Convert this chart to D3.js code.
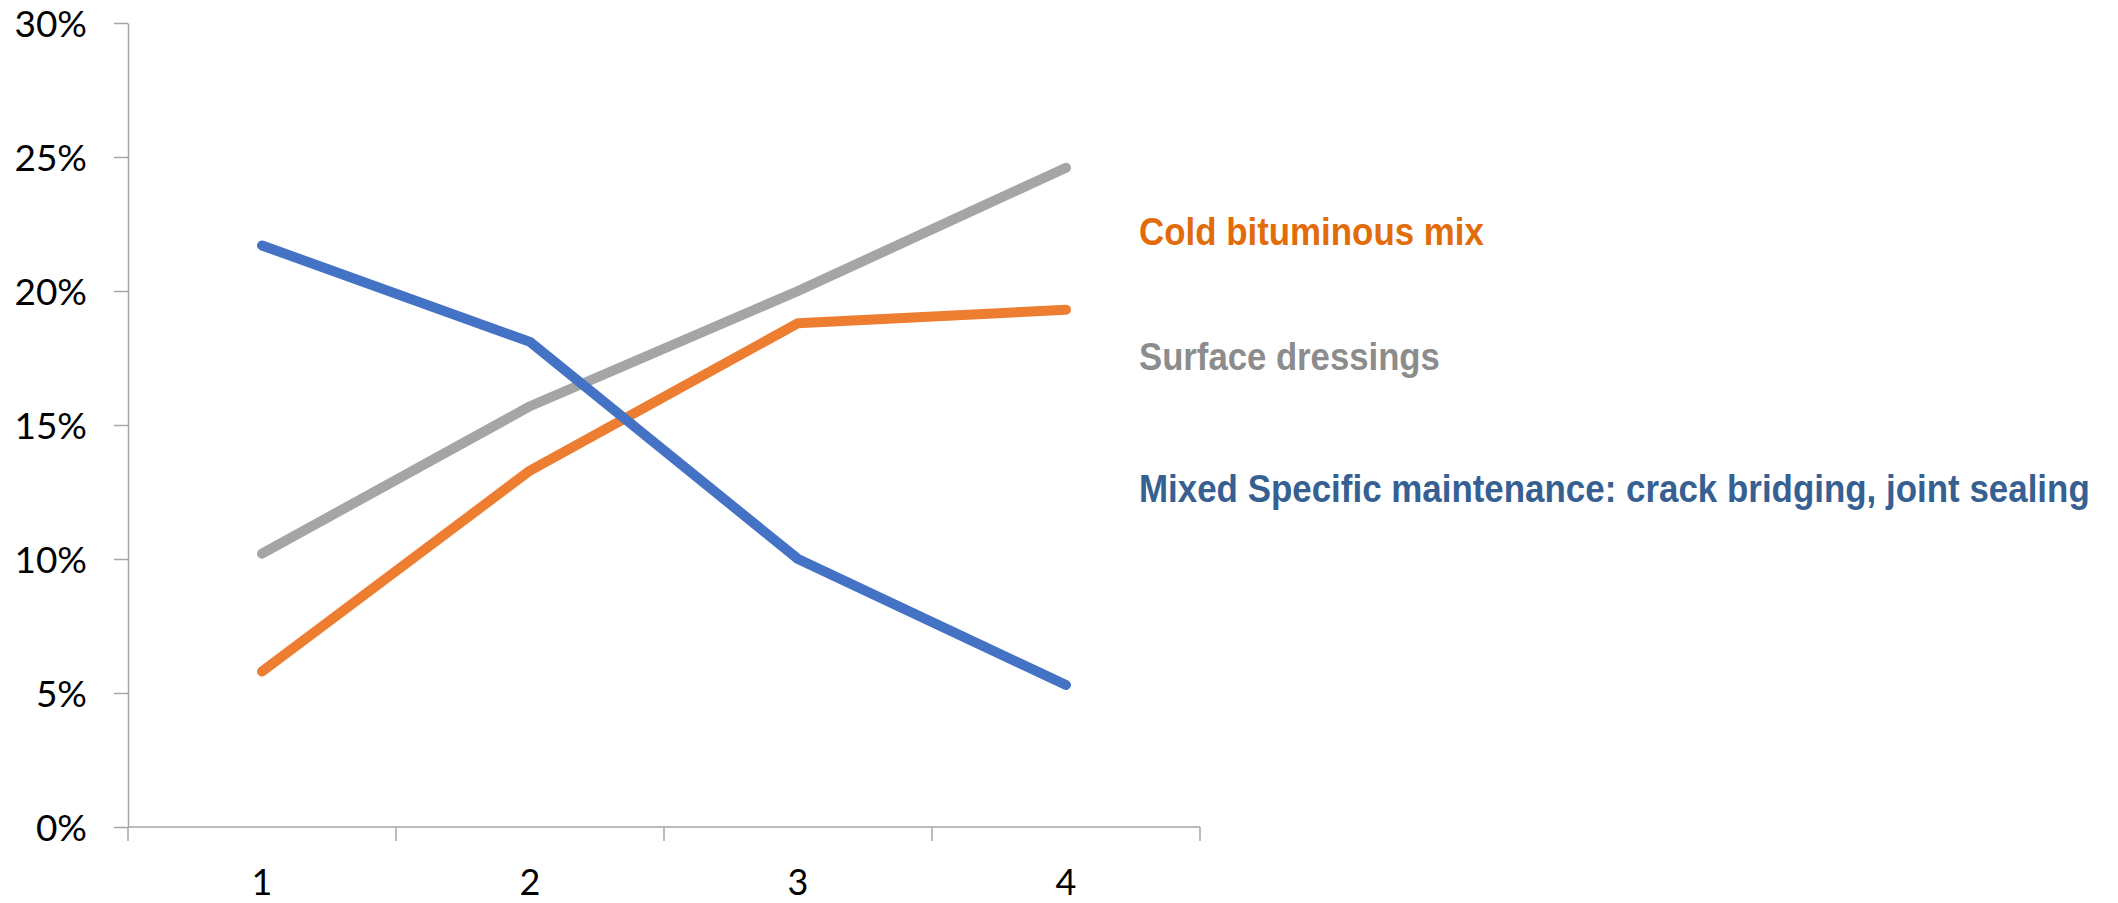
<!DOCTYPE html>
<html>
<head>
<meta charset="utf-8">
<script src="https://cdn.jsdelivr.net/npm/d3@7"></script>
<style>
  html, body { margin: 0; padding: 0; background: #fff; }
  #viz { width: 2118px; height: 903px; }
</style>
</head>
<body>
<div id="viz"></div>
<script>
// chart values
const categories = ["1", "2", "3", "4"];
const seriesNames = [
    "Cold bituminous mix",
    "Surface dressings",
    "Mixed Specific maintenance: crack bridging, joint sealing"
];
const coldMix = [0.058, 0.133, 0.188, 0.193];
const surfaceDressings = [0.102, 0.157, 0.200, 0.246];
const mixedMaintenance = [0.217, 0.181, 0.100, 0.053];
const yTicks = [0, 0.05, 0.10, 0.15, 0.20, 0.25, 0.30];

// colours
const LINE_COLORS = ["#ed7d31", "#a5a5a5", "#4472c4"];
const LABEL_COLORS = ["#e36c0a", "#8c8c8c", "#376092"];
const AXIS = "#a6a6a6";

function renderChart() {
    const width = 2118, height = 903;
    const margin = { top: 23, right: 918, bottom: 76, left: 128 };

    const svg = d3.select("#viz").append("svg")
        .attr("width", width)
        .attr("height", height);

    const x = d3.scaleBand()
        .domain(categories)
        .range([margin.left, width - margin.right]);

    const y = d3.scaleLinear()
        .domain([0, 0.30])
        .range([height - margin.bottom, margin.top]);

    // y axis
    const yAxis = svg.append("g")
        .attr("transform", `translate(${margin.left},0)`)
        .call(d3.axisLeft(y).tickValues(yTicks).tickFormat(d3.format(".0%")).tickSize(14).tickSizeOuter(0).tickPadding(27));
    yAxis.select(".domain").attr("stroke", AXIS).attr("stroke-width", 1.5);
    yAxis.selectAll(".tick line").attr("stroke", AXIS).attr("stroke-width", 1.5);
    yAxis.selectAll(".tick text")
        .attr("fill", "#000")
        .style("font-family", "Lato, 'Noto Sans', sans-serif")
        .style("font-size", "37px")
        .attr("dy", "0.36em");

    // x axis, with ticks between categories like the original
    const xAxis = svg.append("g")
        .attr("transform", `translate(0,${height - margin.bottom})`);
    xAxis.append("line")
        .attr("x1", margin.left).attr("x2", width - margin.right)
        .attr("stroke", AXIS).attr("stroke-width", 1.5);
    const edges = categories.map(c => x(c)).concat([x(categories[categories.length - 1]) + x.bandwidth()]);
    xAxis.selectAll("line.tick")
        .data(edges)
        .join("line")
        .attr("class", "tick")
        .attr("x1", d => d).attr("x2", d => d)
        .attr("y1", 0).attr("y2", 14)
        .attr("stroke", AXIS).attr("stroke-width", 1.5);
    xAxis.selectAll("text")
        .data(categories)
        .join("text")
        .attr("x", d => x(d) + x.bandwidth() / 2)
        .attr("y", 68)
        .attr("text-anchor", "middle")
        .style("font-family", "Lato, 'Noto Sans', sans-serif")
        .style("font-size", "36px")
        .attr("fill", "#000")
        .text(d => d);

    // lines
    const series = [coldMix, surfaceDressings, mixedMaintenance];
    const line = d3.line()
        .x((d, i) => x(categories[i]) + x.bandwidth() / 2)
        .y(d => y(d));

    // draw order: grey under, orange, blue on top
    [1, 0, 2].forEach(k => {
        svg.append("path")
            .datum(series[k])
            .attr("d", line)
            .attr("fill", "none")
            .attr("stroke", LINE_COLORS[k])
            .attr("stroke-width", 10)
            .attr("stroke-linecap", "round")
            .attr("stroke-linejoin", "round");
    });

    // series labels on the right (condensed bold in the original),
    // squeezed horizontally with a scale so they take the same width
    const labelY = [245, 370, 502];
    const labelW = [345, 301, 951];
    const labels = svg.append("g")
        .selectAll("g")
        .data(seriesNames)
        .join("g");
    labels.append("text")
        .attr("x", 0)
        .attr("y", 0)
        .attr("fill", (d, i) => LABEL_COLORS[i])
        .style("font-family", "'Liberation Sans Narrow', 'Liberation Sans', Arial, sans-serif")
        .style("font-weight", "bold")
        .style("font-size", "38px")
        .text(d => d);
    labels.each(function (d, i) {
        const w = d3.select(this).select("text").node().getComputedTextLength();
        const sx = Math.min(1, labelW[i] / w);
        d3.select(this).attr("transform", `translate(1139,${labelY[i]}) scale(${sx},1)`);
    });
}

renderChart();
</script>
</body>
</html>
